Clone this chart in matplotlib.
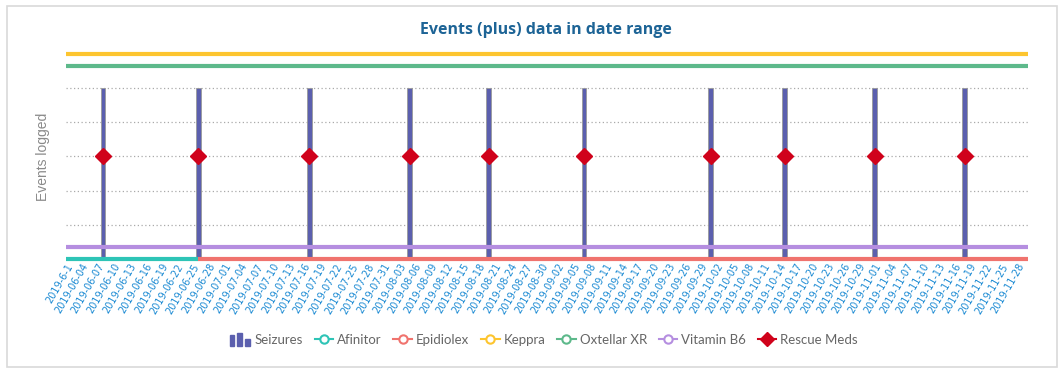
import matplotlib
matplotlib.use("Agg")
import matplotlib.pyplot as plt
from matplotlib.lines import Line2D
from matplotlib.patches import Rectangle
from matplotlib.legend_handler import HandlerBase
import pandas as pd

# ---- data ----
range_start = "2019-06-01"
range_end = "2019-11-30"

seizure_dates = ["2019-06-08", "2019-06-26", "2019-07-17", "2019-08-05", "2019-08-20",
                 "2019-09-07", "2019-10-01", "2019-10-15", "2019-11-01", "2019-11-18"]
seizure_counts = [5, 5, 5, 5, 5, 5, 5, 5, 5, 5]

rescue_dates = seizure_dates
rescue_vals = [3, 3, 3, 3, 3, 3, 3, 3, 3, 3]

afinitor_dates = ["2019-06-01", "2019-06-26"]
afinitor_vals = [0, 0]
epidiolex_dates = ["2019-06-26", "2019-11-30"]
epidiolex_vals = [0, 0]
keppra_dates = ["2019-06-01", "2019-11-30"]
keppra_vals = [6.0, 6.0]
oxtellar_dates = ["2019-06-01", "2019-11-30"]
oxtellar_vals = [5.65, 5.65]
vitb6_dates = ["2019-06-01", "2019-11-30"]
vitb6_vals = [0.35, 0.35]

tick_dates = pd.date_range(range_start, "2019-11-28", freq="3D")
tick_labels = ["2019-6-1"] + [d.strftime("%Y-%m-%d") for d in tick_dates[1:]]

colors = {
    "Seizures": "#5b5fae",
    "Afinitor": "#2ec4b6",
    "Epidiolex": "#f0736e",
    "Keppra": "#fdc52f",
    "Oxtellar XR": "#5db98b",
    "Vitamin B6": "#b58ee0",
    "Rescue Meds": "#d0021b",
}

plt.rcParams["font.family"] = ["Open Sans", "DejaVu Sans"]

fig = plt.figure(figsize=(10.64, 3.74), dpi=100)
fig.patches.append(Rectangle((7 / 1064, 1 - 367 / 374), 1050 / 1064, 361 / 374,
                             transform=fig.transFigure, fill=False,
                             edgecolor="#d9d9d9", linewidth=1.2))
ax = fig.add_axes([66 / 1064, 1 - 259 / 374, 962 / 1064, 214 / 374])

d = lambda lst: pd.to_datetime(lst)

for y in [1, 2, 3, 4, 5]:
    ax.axhline(y, color="#aaaaaa", linestyle=(0, (1, 2)), linewidth=0.9, zorder=0)

ax.bar(d(seizure_dates), seizure_counts, width=0.9, color=colors["Seizures"],
       edgecolor="#9a9a9a", linewidth=0.6, zorder=2)

for name, xs, ys in [("Keppra", keppra_dates, keppra_vals),
                     ("Oxtellar XR", oxtellar_dates, oxtellar_vals),
                     ("Vitamin B6", vitb6_dates, vitb6_vals),
                     ("Afinitor", afinitor_dates, afinitor_vals),
                     ("Epidiolex", epidiolex_dates, epidiolex_vals)]:
    ax.plot(d(xs), ys, color=colors[name], linewidth=3, solid_capstyle="butt",
            clip_on=False, zorder=3)

ax.plot(d(rescue_dates), rescue_vals, linestyle="none", marker="D", markersize=8.5,
        color=colors["Rescue Meds"], zorder=4)

ax.set_xlim(pd.Timestamp(range_start), pd.Timestamp(range_end))
ax.set_ylim(0, 6.25)
ax.set_xticks(tick_dates)
ax.set_xticklabels(tick_labels, rotation=60, ha="right", rotation_mode="anchor",
                   fontsize=7, color="#1b8ad3", family=["DejaVu Sans"])
ax.tick_params(axis="x", length=0, pad=2)
ax.set_yticks([])
for s in ax.spines.values():
    s.set_visible(False)
ax.set_ylabel("Events logged", color="#8a8a8a", fontsize=10,
              family=["Liberation Sans", "DejaVu Sans"])
ax.yaxis.set_label_coords(-0.017, 0.477)

fig.text(546 / 1064, 1 - 30 / 374, "Events (plus) data in date range",
         ha="center", va="center", fontsize=11.5, fontweight="bold", color="#1d6496")


class BarIconHandler(HandlerBase):
    def create_artists(self, legend, orig_handle, xdescent, ydescent, width, height,
                       fontsize, trans):
        arts = []
        for i, h in enumerate([1.2, 1.45, 0.8]):
            x0 = width - 15 + i * 5.5
            arts.append(Rectangle((x0 - xdescent, -ydescent - 1.5), 3.5, height * h,
                                  color=colors["Seizures"], transform=trans))
        return arts


handles = [Rectangle((0, 0), 1, 1)]
labels = ["Seizures"]
for name in ["Afinitor", "Epidiolex", "Keppra", "Oxtellar XR", "Vitamin B6"]:
    handles.append(Line2D([0], [0], color=colors[name], linewidth=1.5, marker="o",
                          markersize=6, markerfacecolor="white",
                          markeredgecolor=colors[name], markeredgewidth=1.5))
    labels.append(name)
handles.append(Line2D([0], [0], color=colors["Rescue Meds"], linewidth=1.5, marker="D",
                      markersize=7))
labels.append("Rescue Meds")

leg = fig.legend(handles, labels, loc="center", bbox_to_anchor=(545 / 1064, 1 - 340 / 374),
                 ncol=7, frameon=False, handlelength=1.4,
                 handletextpad=0.3, columnspacing=0.9,
                 prop={"family": ["Lato", "DejaVu Sans"], "size": 9.5},
                 handler_map={Rectangle: BarIconHandler()})
for t in leg.get_texts():
    t.set_color("#666666")

fig.savefig("out.png", dpi=100)
